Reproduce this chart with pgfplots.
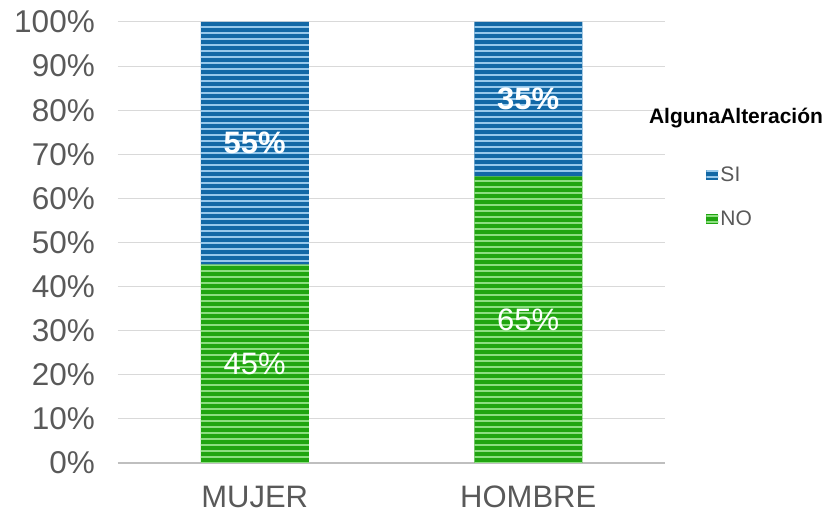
\documentclass[border=0pt]{standalone}
\usepackage{fontspec}
\setmainfont{Liberation Sans}
\usepackage{pgfplots}
\pgfplotsset{compat=1.18}
\usetikzlibrary{patterns}
\definecolor{siblue}{RGB}{18,104,166}
\definecolor{siblueL}{RGB}{150,200,235}
\definecolor{nogreen}{RGB}{32,165,16}
\definecolor{nogreenL}{RGB}{140,222,128}
\definecolor{txtgray}{RGB}{89,89,89}
\definecolor{gridgray}{RGB}{217,217,217}
\definecolor{axgray}{RGB}{191,191,191}
\pgfdeclarepatternformonly{hstripes}{\pgfpointorigin}{\pgfpoint{200pt}{5.6pt}}{\pgfpoint{200pt}{5.6pt}}{%
  \pgfpathrectangle{\pgfpoint{0pt}{0pt}}{\pgfpoint{200pt}{2.1pt}}\pgfusepath{fill}}
\begin{document}
\begin{tikzpicture}
\useasboundingbox (0,0) rectangle (827pt,514pt);
\begin{axis}[
  at={(118pt,51pt)}, anchor=south west,
  scale only axis, width=547pt, height=441pt,
  ybar stacked, bar width=108pt,
  xmin=-0.5, xmax=1.5, ymin=0, ymax=100,
  xtick={0,1}, xticklabels={MUJER,HOMBRE},
  ytick={0,10,...,100},
  yticklabel={\pgfmathprintnumber{\tick}\%},
  /pgf/number format/assume math mode=true,
  axis lines*=left,
  y axis line style={draw=none},
  x axis line style={draw=axgray, line width=2.5pt},
  tick style={draw=none},
  ymajorgrids, grid style={draw=gridgray, line width=1pt},
  ticklabel style={text=txtgray},
  yticklabel style={inner sep=0pt, xshift=-23pt, font=\fontsize{31.5}{31.5}\selectfont},
  xticklabel style={inner sep=0pt, yshift=-23pt, font=\fontsize{31}{31}\selectfont},
  reverse legend,
  legend style={at={(1.07,0.68)}, anchor=north west, draw=none, fill=none,
    font=\fontsize{21}{25}\selectfont, text=txtgray, row sep=23pt,
    nodes={inner sep=2pt}},
  legend cell align=left,
  legend image code/.code={\draw[#1, draw=none] (0pt,-5pt) rectangle (12pt,5pt);},
]
\addplot[fill=nogreen, draw=none, postaction={pattern=hstripes, pattern color=nogreenL}]
  coordinates {(0,45) (1,65)};
\addlegendentry{NO}
\addplot[fill=siblue, draw=none, postaction={pattern=hstripes, pattern color=siblueL}]
  coordinates {(0,55) (1,35)};
\addlegendentry{SI}
\end{axis}
\begin{axis}[
  at={(118pt,51pt)}, anchor=south west,
  scale only axis, width=547pt, height=441pt,
  xmin=-0.5, xmax=1.5, ymin=0, ymax=100,
  hide axis,
]
\addplot[draw=none, nodes near coords, point meta=explicit symbolic,
  every node near coord/.append style={anchor=center, text=white, font=\fontsize{31}{31}\selectfont}]
  coordinates {(0,22.5)[45\%] (1,32.5)[65\%]};
\addplot[draw=none, nodes near coords, point meta=explicit symbolic,
  every node near coord/.append style={anchor=center, text=white, font=\bfseries\fontsize{31}{31}\selectfont}]
  coordinates {(0,72.5)[55\%] (1,82.5)[35\%]};
\end{axis}
\node[font=\bfseries\fontsize{21}{25}\selectfont, text=black] at (736pt,396pt) {AlgunaAlteración};
\end{tikzpicture}
\end{document}
